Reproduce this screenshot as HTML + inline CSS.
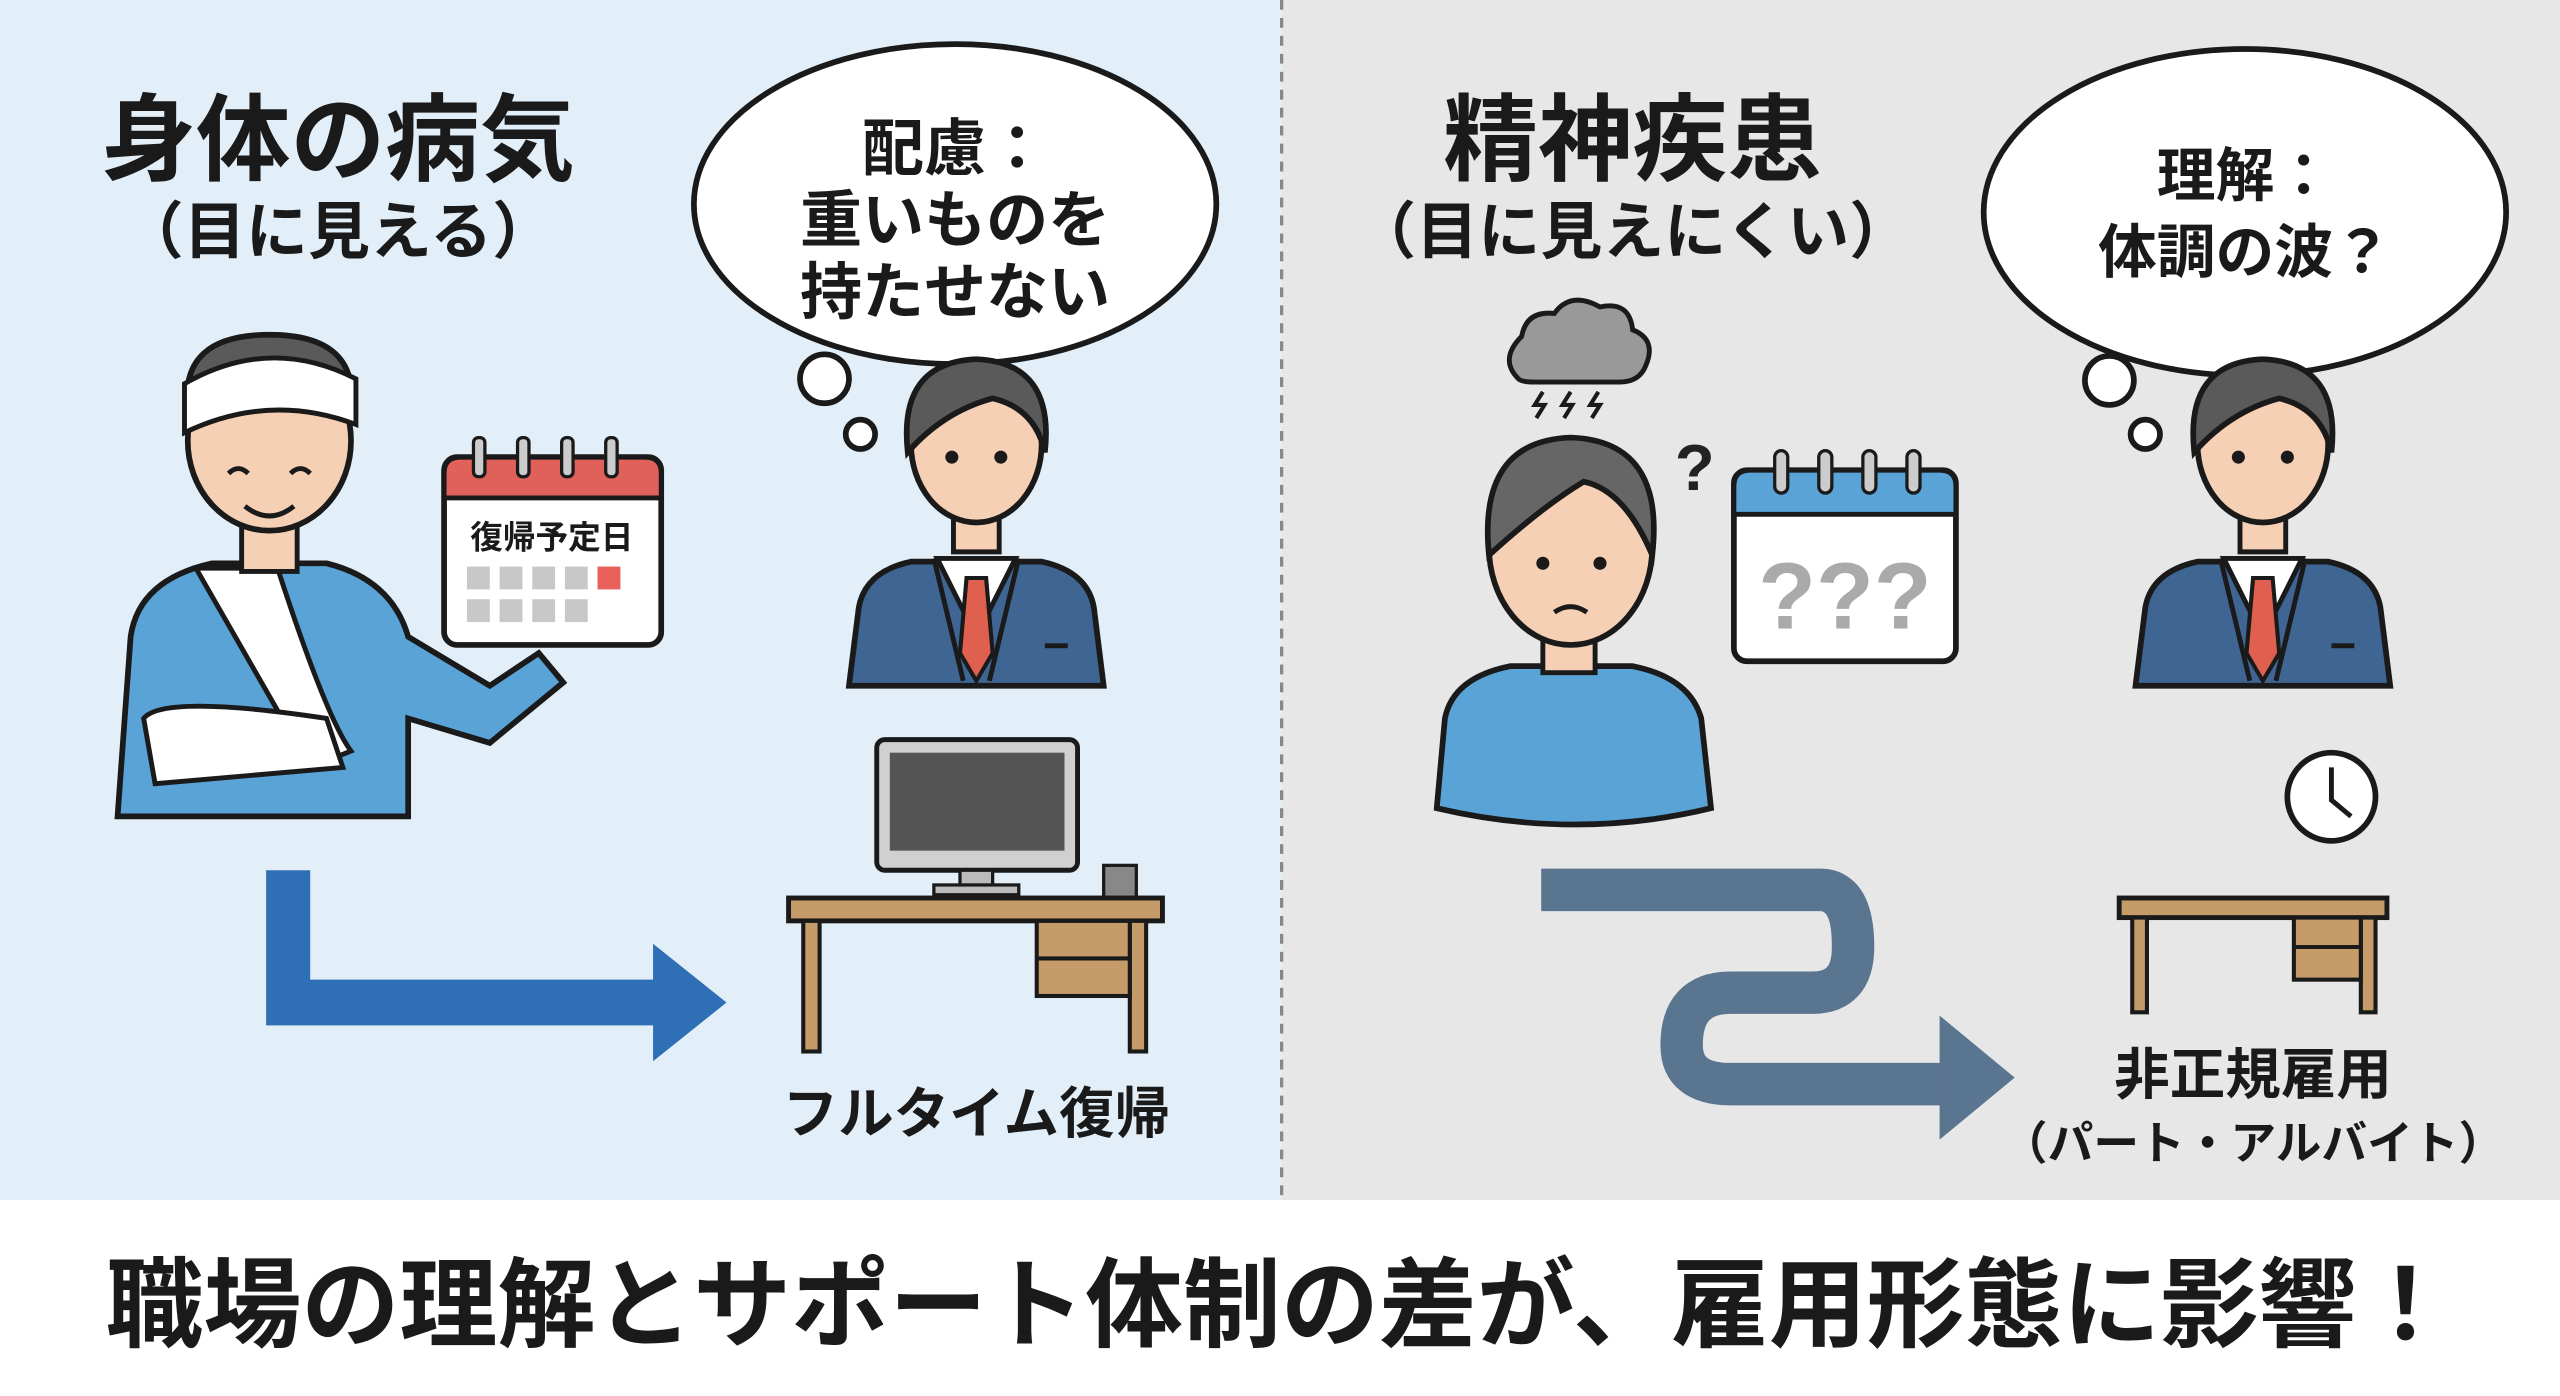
<!DOCTYPE html>
<html><head><meta charset="utf-8"><style>
html,body{margin:0;padding:0;background:#fff}
svg{display:block}
text{font-family:"Liberation Sans","Noto Sans CJK JP",sans-serif;font-weight:bold;fill:#1a1a1a;text-anchor:middle}
</style></head><body>
<svg width="2560" height="1396" viewBox="0 0 1568 855" preserveAspectRatio="none" xmlns="http://www.w3.org/2000/svg">
<defs>
<g id="boss">
  <path d="M-78,148 L-72,100 Q-68,78 -40,72 L40,72 Q68,78 72,100 L78,148 Z" fill="#3f6593" stroke="#1a1a1a" stroke-width="3.5"/>
  <path d="M-24,70 L0,118 L24,70 Z" fill="#fff" stroke="#1a1a1a" stroke-width="3"/>
  <path d="M-6,82 L6,82 L10,128 L0,145 L-10,128 Z" fill="#e0604f" stroke="#1a1a1a" stroke-width="2.5"/>
  <path d="M-26,70 L-8,145 M26,70 L8,145" stroke="#1a1a1a" stroke-width="3" fill="none"/>
  <path d="M-14,40 L-14,66 L14,66 L14,40 Z" fill="#f6d0b4" stroke="#1a1a1a" stroke-width="3"/>
  <ellipse cx="0" cy="0" rx="40" ry="48" fill="#f6d0b4" stroke="#1a1a1a" stroke-width="3.5"/>
  <path d="M-42,5 Q-48,-50 0,-52 Q48,-50 42,5 Q36,-22 10,-28 Q-20,-20 -42,5 Z" fill="#5a5a5a" stroke="#1a1a1a" stroke-width="3.5"/>
  <circle cx="-15" cy="8" r="4" fill="#1a1a1a"/><circle cx="15" cy="8" r="4" fill="#1a1a1a"/>
  <rect x="42" y="122" width="14" height="3" fill="#1a1a1a"/>
</g>
</defs>
<rect x="0" y="0" width="785" height="735" fill="#e2eff9"/>
<rect x="785" y="0" width="783" height="735" fill="#e7e7e7"/>
<line x1="785" y1="0" x2="785" y2="735" stroke="#888" stroke-width="2" stroke-dasharray="6,5"/>
<rect x="0" y="735" width="1568" height="120" fill="#fff"/>

<text x="207" y="106" font-size="58">身体の病気</text>
<text x="207" y="155" font-size="38">（目に見える）</text>
<text x="1000" y="106" font-size="58">精神疾患</text>
<text x="1000" y="155" font-size="38">（目に見えにくい）</text>

<ellipse cx="585" cy="125" rx="160" ry="98" fill="#fff" stroke="#1a1a1a" stroke-width="3.5"/>
<circle cx="505" cy="232" r="15" fill="#fff" stroke="#1a1a1a" stroke-width="3.5"/>
<circle cx="527" cy="266" r="9" fill="#fff" stroke="#1a1a1a" stroke-width="3.5"/>
<text x="585" y="104" font-size="38">配慮：</text>
<text x="585" y="148" font-size="38">重いものを</text>
<text x="585" y="192" font-size="38">持たせない</text>

<ellipse cx="1375" cy="130" rx="160" ry="100" fill="#fff" stroke="#1a1a1a" stroke-width="3.5"/>
<circle cx="1292" cy="233" r="15" fill="#fff" stroke="#1a1a1a" stroke-width="3.5"/>
<circle cx="1314" cy="266" r="9" fill="#fff" stroke="#1a1a1a" stroke-width="3.5"/>
<text x="1375" y="120" font-size="36">理解：</text>
<text x="1375" y="167" font-size="36">体調の波？</text>

<use href="#boss" transform="translate(598,272)"/>
<use href="#boss" transform="translate(1386,272)"/>

<path d="M72,500 L80,390 Q85,355 130,345 L200,345 Q240,355 250,390 L300,420 L330,400 L345,418 L300,455 L250,440 L250,500 Z" fill="#5aa3d6" stroke="#1a1a1a" stroke-width="3.5"/>
<path d="M120,348 L190,470 L215,460 Q200,440 170,348 Z" fill="#fff" stroke="#1a1a1a" stroke-width="3"/>
<path d="M88,440 Q100,425 200,440 L210,470 L95,480 Z" fill="#fff" stroke="#1a1a1a" stroke-width="3"/>
<rect x="148" y="310" width="34" height="40" fill="#f6d0b4" stroke="#1a1a1a" stroke-width="3"/>
<ellipse cx="165" cy="270" rx="50" ry="55" fill="#f6d0b4" stroke="#1a1a1a" stroke-width="3.5"/>
<path d="M115,250 Q110,205 165,205 Q220,205 215,250 Z" fill="#5a5a5a" stroke="#1a1a1a" stroke-width="3.5"/>
<path d="M113,235 Q165,205 218,232 L218,260 Q165,240 113,265 Z" fill="#fff" stroke="#1a1a1a" stroke-width="3"/>
<path d="M140,290 q6,-6 12,0 M178,290 q6,-6 12,0" stroke="#1a1a1a" stroke-width="3" fill="none"/>
<path d="M150,310 Q165,322 180,310" stroke="#1a1a1a" stroke-width="3" fill="none"/>
<rect x="272" y="280" width="133" height="115" rx="8" fill="#fff" stroke="#1a1a1a" stroke-width="3.5"/>
<path d="M272,305 L272,290 Q272,280 282,280 L395,280 Q405,280 405,290 L405,305 Z" fill="#e0605a" stroke="#1a1a1a" stroke-width="3"/>
<g fill="#ccc" stroke="#1a1a1a" stroke-width="2"><rect x="290" y="268" width="7" height="24" rx="3"/><rect x="317" y="268" width="7" height="24" rx="3"/><rect x="344" y="268" width="7" height="24" rx="3"/><rect x="371" y="268" width="7" height="24" rx="3"/></g>
<text x="338" y="336" font-size="20">復帰予定日</text>
<g fill="#c8c8c8"><rect x="286" y="347" width="14" height="14"/><rect x="306" y="347" width="14" height="14"/><rect x="326" y="347" width="14" height="14"/><rect x="346" y="347" width="14" height="14"/><rect x="286" y="367" width="14" height="14"/><rect x="306" y="367" width="14" height="14"/><rect x="326" y="367" width="14" height="14"/><rect x="346" y="367" width="14" height="14"/></g>
<rect x="366" y="347" width="14" height="14" fill="#e8605a"/>

<path d="M163,533 L190,533 L190,600 L400,600 L400,578 L445,614 L400,650 L400,628 L163,628 Z" fill="#2f6fb5"/>

<rect x="537" y="453" width="123" height="80" rx="5" fill="#d0d0d0" stroke="#1a1a1a" stroke-width="3"/>
<rect x="545" y="461" width="107" height="60" fill="#555"/>
<rect x="588" y="533" width="20" height="10" fill="#bbb" stroke="#1a1a1a" stroke-width="2"/>
<rect x="572" y="542" width="52" height="6" fill="#bbb" stroke="#1a1a1a" stroke-width="2"/>
<rect x="676" y="530" width="20" height="20" fill="#888" stroke="#1a1a1a" stroke-width="2"/>
<rect x="483" y="550" width="229" height="14" fill="#c59b6a" stroke="#1a1a1a" stroke-width="3"/>
<rect x="492" y="564" width="10" height="80" fill="#c59b6a" stroke="#1a1a1a" stroke-width="2.5"/>
<rect x="692" y="564" width="10" height="80" fill="#c59b6a" stroke="#1a1a1a" stroke-width="2.5"/>
<rect x="635" y="564" width="57" height="46" fill="#c59b6a" stroke="#1a1a1a" stroke-width="2.5"/>
<line x1="635" y1="587" x2="692" y2="587" stroke="#1a1a1a" stroke-width="2.5"/>
<text x="598" y="694" font-size="34">フルタイム復帰</text>

<path d="M930,232 Q918,220 932,206 Q935,190 952,192 Q962,178 980,188 Q998,184 1000,202 Q1015,208 1008,224 Q1004,234 992,234 L940,234 Q932,234 930,232 Z" fill="#999" stroke="#1a1a1a" stroke-width="3"/>
<path d="M945,240 l-5,8 6,0 -5,8 M962,240 l-5,8 6,0 -5,8 M979,240 l-5,8 6,0 -5,8" stroke="#1a1a1a" stroke-width="2.5" fill="none"/>
<text x="1038" y="300" font-size="40" style="fill:#222">?</text>
<path d="M880,495 L885,440 Q890,415 925,408 L1000,408 Q1035,415 1042,440 L1048,495 Q965,515 880,495 Z" fill="#5aa3d6" stroke="#1a1a1a" stroke-width="3.5"/>
<rect x="945" y="370" width="32" height="42" fill="#f6d0b4" stroke="#1a1a1a" stroke-width="3"/>
<ellipse cx="962" cy="335" rx="50" ry="60" fill="#f6d0b4" stroke="#1a1a1a" stroke-width="3.5"/>
<path d="M912,340 Q905,270 962,268 Q1020,270 1012,340 Q995,300 970,295 Q945,310 912,340 Z" fill="#666" stroke="#1a1a1a" stroke-width="3.5"/>
<circle cx="945" cy="345" r="4" fill="#1a1a1a"/><circle cx="980" cy="345" r="4" fill="#1a1a1a"/>
<path d="M952,375 Q962,368 972,375" stroke="#1a1a1a" stroke-width="3" fill="none"/>
<rect x="1062" y="288" width="136" height="117" rx="8" fill="#fff" stroke="#1a1a1a" stroke-width="3.5"/>
<path d="M1062,315 L1062,298 Q1062,288 1072,288 L1188,288 Q1198,288 1198,298 L1198,315 Z" fill="#5aa3d6" stroke="#1a1a1a" stroke-width="3"/>
<g fill="#ccc" stroke="#1a1a1a" stroke-width="2"><rect x="1087" y="276" width="8" height="26" rx="4"/><rect x="1114" y="276" width="8" height="26" rx="4"/><rect x="1141" y="276" width="8" height="26" rx="4"/><rect x="1168" y="276" width="8" height="26" rx="4"/></g>
<text x="1130" y="385" font-size="58" style="fill:#aaa">???</text>

<circle cx="1428" cy="488" r="27" fill="#fff" stroke="#1a1a1a" stroke-width="3.5"/>
<path d="M1428,470 L1428,490 L1440,500" stroke="#1a1a1a" stroke-width="3" fill="none"/>
<rect x="1298" y="550" width="164" height="12" fill="#c59b6a" stroke="#1a1a1a" stroke-width="3"/>
<rect x="1306" y="562" width="9" height="58" fill="#c59b6a" stroke="#1a1a1a" stroke-width="2.5"/>
<rect x="1446" y="562" width="9" height="58" fill="#c59b6a" stroke="#1a1a1a" stroke-width="2.5"/>
<rect x="1405" y="562" width="41" height="38" fill="#c59b6a" stroke="#1a1a1a" stroke-width="2.5"/>
<line x1="1405" y1="580" x2="1446" y2="580" stroke="#1a1a1a" stroke-width="2.5"/>

<path d="M944,545 L1115,545 Q1135,545 1135,580 Q1135,608 1110,608 L1060,608 Q1030,608 1030,640 Q1030,664 1060,664 L1190,664" stroke="#5a7590" stroke-width="26" fill="none"/>
<path d="M1188,622 L1234,660 L1188,698 Z" fill="#5a7590"/>

<text x="1380" y="670" font-size="34">非正規雇用</text>
<text x="1380" y="710" font-size="28">（パート・アルバイト）</text>

<text x="784" y="820" font-size="60">職場の理解とサポート体制の差が、雇用形態に影響！</text>
</svg>
</body></html>
